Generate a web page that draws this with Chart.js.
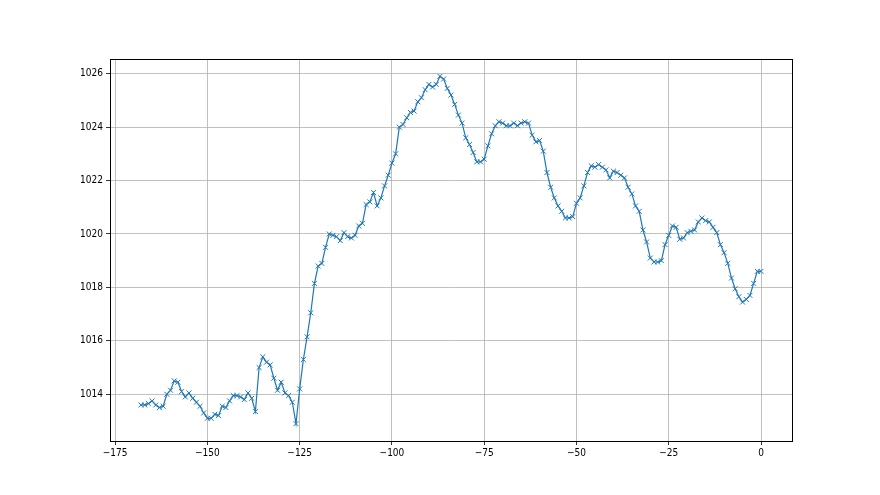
<!DOCTYPE html>
<html>
<head>
<meta charset="utf-8">
<script src="https://cdn.jsdelivr.net/npm/chart.js@4/dist/chart.umd.min.js"></script>
<style>
  body { margin: 0; background: #fff; }
  canvas { display: block; }
</style>
</head>
<body>
<canvas id="pressure_chart" width="880" height="495"></canvas>
<script>
  // hours before now, one reading per hour
  var startHour = -168;
  var pressure = [
    1013.6, 1013.6, 1013.65, 1013.75, 1013.6, 1013.5, 1013.55, 1014.0, 1014.15, 1014.5,
    1014.45, 1014.1, 1013.9, 1014.05, 1013.85, 1013.7, 1013.55, 1013.3, 1013.1, 1013.1,
    1013.25, 1013.2, 1013.55, 1013.5, 1013.75, 1013.95, 1013.95, 1013.9, 1013.8, 1014.05,
    1013.85, 1013.35, 1015.0, 1015.4, 1015.2, 1015.1, 1014.6, 1014.15, 1014.45, 1014.05,
    1013.95, 1013.7, 1012.9, 1014.2, 1015.3, 1016.15, 1017.05, 1018.15, 1018.8, 1018.9,
    1019.5, 1020.0, 1019.95, 1019.9, 1019.75, 1020.05, 1019.9, 1019.85, 1019.95, 1020.3,
    1020.4, 1021.1, 1021.2, 1021.55, 1021.05, 1021.35, 1021.8, 1022.2, 1022.65, 1023.0,
    1024.0, 1024.1, 1024.35, 1024.55, 1024.6, 1024.95, 1025.1, 1025.4, 1025.6, 1025.5,
    1025.6, 1025.9, 1025.8, 1025.45, 1025.2, 1024.85, 1024.45, 1024.15, 1023.6, 1023.35,
    1023.05, 1022.7, 1022.7, 1022.8, 1023.3, 1023.75, 1024.05, 1024.2, 1024.15, 1024.05,
    1024.05, 1024.15, 1024.05, 1024.15, 1024.2, 1024.15, 1023.7, 1023.45, 1023.5, 1023.1,
    1022.3, 1021.75, 1021.35, 1021.05, 1020.85, 1020.6, 1020.6, 1020.65, 1021.15, 1021.35,
    1021.8, 1022.3, 1022.55, 1022.5, 1022.6, 1022.5, 1022.4, 1022.1, 1022.35, 1022.3,
    1022.2, 1022.1, 1021.75, 1021.5, 1021.05, 1020.85, 1020.15, 1019.7, 1019.1, 1018.95,
    1018.95, 1019.0, 1019.6, 1019.95, 1020.3, 1020.25, 1019.8, 1019.85, 1020.05, 1020.1,
    1020.15, 1020.45, 1020.6, 1020.5, 1020.45, 1020.25, 1020.05, 1019.6, 1019.3, 1018.9,
    1018.35, 1017.95, 1017.65, 1017.45, 1017.55, 1017.7, 1018.15, 1018.6, 1018.6
  ];
  var xTicks = [-175, -150, -125, -100, -75, -50, -25, 0];
  var yTicks = [1014, 1016, 1018, 1020, 1022, 1024, 1026];

  var points = pressure.map(function(p, i) {
    return { x: startHour + i, y: p };
  });

  // draw the top and right spines too
  var frame = {
    id: 'frame',
    afterDraw: function(chart) {
      var a = chart.chartArea;
      var ctx = chart.ctx;
      ctx.save();
      ctx.strokeStyle = '#000';
      ctx.lineWidth = 1;
      ctx.strokeRect(Math.round(a.left) + 0.5, Math.round(a.top) + 0.5,
                     Math.round(a.right - a.left), Math.round(a.bottom - a.top));
      ctx.restore();
    }
  };

  function minus(v) {
    return String(v).replace('-', '\u2212');
  }

  var tickFont = { family: "'Liberation Sans Narrow', 'DejaVu Sans Condensed', 'DejaVu Sans'", size: 10 };

  var pressureChart = new Chart(document.getElementById('pressure_chart'), {
      type: 'line',
      data: {
          datasets: [{
              data: points,
              borderColor: '#1f77b4',
              backgroundColor: '#1f77b4',
              borderWidth: 1.2,
              pointStyle: 'crossRot',
              pointRadius: 3.5,
              pointBorderWidth: 1,
              pointBorderColor: '#1f77b4',
              tension: 0,
              fill: false
          }]
      },
      options: {
          responsive: false,
          animation: false,
          layout: {
              padding: { left: 0, right: 88, top: 59, bottom: 0 }
          },
          plugins: {
              legend: { display: false },
              tooltip: { enabled: false }
          },
          scales: {
              x: {
                  type: 'linear',
                  min: -176.4,
                  max: 8.4,
                  afterBuildTicks: function(scale) {
                      scale.ticks = xTicks.map(function(v) { return { value: v }; });
                  },
                  afterFit: function(scale) { scale.height = 54; },
                  grid: {
                      color: '#b0b0b0',
                      lineWidth: 0.8,
                      tickColor: '#000',
                      tickLength: 4
                  },
                  border: { color: '#000', width: 1 },
                  ticks: {
                      color: '#000',
                      padding: 2,
                      maxRotation: 0,
                      font: tickFont,
                      callback: function(v) { return minus(v); }
                  }
              },
              y: {
                  min: 1012.25,
                  max: 1026.55,
                  afterBuildTicks: function(scale) {
                      scale.ticks = yTicks.map(function(v) { return { value: v }; });
                  },
                  afterFit: function(scale) { scale.width = 110; },
                  grid: {
                      color: '#b0b0b0',
                      lineWidth: 0.8,
                      tickColor: '#000',
                      tickLength: 4
                  },
                  border: { color: '#000', width: 1 },
                  ticks: {
                      color: '#000',
                      padding: 3,
                      font: tickFont,
                      callback: function(v) { return String(v); }
                  }
              }
          }
      },
      plugins: [frame]
  });
</script>
</body>
</html>
